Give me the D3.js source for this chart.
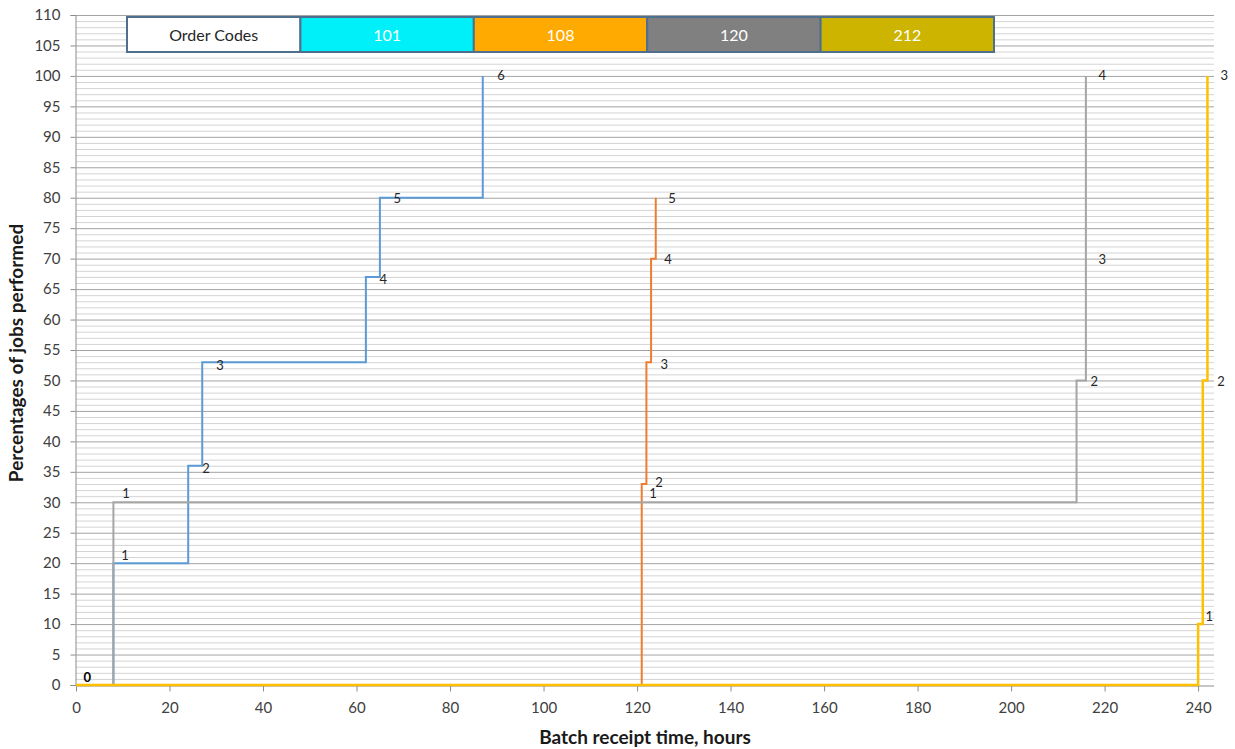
<!DOCTYPE html>
<html><head><meta charset="utf-8">
<script src="https://cdn.jsdelivr.net/npm/d3@7"></script>
<style>body{margin:0;background:#fff}svg{display:block}text{font-family:Lato,"Liberation Sans",sans-serif}</style>
</head><body>
<svg id="c" width="1235" height="749"></svg>
<script>
// ---- data ----
const xTickValues = [0,20,40,60,80,100,120,140,160,180,200,220,240];
const yTickValues = [0,5,10,15,20,25,30,35,40,45,50,55,60,65,70,75,80,85,90,95,100,105,110];
const legendCodes = ["101","108","120","212"];
const legendTitle = "Order Codes";

const times101 = [0,8,24,27,62,65,87];
const values101 = [0,20,36,53,67,80,100];
const times108 = [0,121,122,123,124];
const values108 = [0,33,53,70,80];
const times120 = [0,8,214,216];
const values120 = [0,30,50,100];
const times212 = [0,240,241,242];
const values212 = [0,10,50,100];

// data label anchors (time, percentage, text)
const labels101 = [[10.5,21.3,"1"],[27.8,35.6,"2"],[30.8,52.5,"3"],[65.7,66.6,"4"],[68.7,79.8,"5"],[90.9,100,"6"]];
const labels108 = [[123.4,31.5,"1"],[124.7,33.2,"2"],[125.8,52.7,"3"],[126.6,69.8,"4"],[127.5,79.8,"5"]];
const labels120 = [[10.7,31.5,"1"],[217.8,49.8,"2"],[219.5,69.8,"3"],[219.5,100,"4"]];
const labels212 = [[242.4,11.2,"1"],[244.9,49.8,"2"],[245.6,100,"3"]];
const labelZero = [[2.4,1.3,"0"]];

// ---- layout ----
const svg = d3.select("#c");
const x = d3.scaleLinear().domain([0,243.4]).range([76,1214]);
const y = d3.scaleLinear().domain([0,110]).range([685,15]);

// gridlines: minor every 1, major every 5
const g = svg.append("g");
g.selectAll("line.minor").data(d3.range(0,111).filter(v=>v%5!==0)).join("line")
  .attr("x1",x(0)).attr("x2",x.range()[1]).attr("y1",d=>y(d)+0.5).attr("y2",d=>y(d)+0.5)
  .attr("stroke","#d4d4d4").attr("stroke-width",1);
g.selectAll("line.major").data(yTickValues.filter(v=>v>0)).join("line")
  .attr("x1",x(0)).attr("x2",x.range()[1]).attr("y1",d=>y(d)+0.5).attr("y2",d=>y(d)+0.5)
  .attr("stroke","#a3a3a3").attr("stroke-width",1);

// axes
const yAxis = svg.append("g").attr("transform",`translate(${x(0)-0.5},0)`)
  .call(d3.axisLeft(y).tickValues(yTickValues).tickSize(5).tickPadding(10));
const xAxis = svg.append("g").attr("transform",`translate(0,${y(0)+0.5})`)
  .call(d3.axisBottom(x).tickValues(xTickValues).tickSize(6).tickPadding(11));
[yAxis,xAxis].forEach(a=>{
  a.select(".domain").attr("stroke","#8c8c8c");
  a.selectAll(".tick line").attr("stroke","#8c8c8c");
  a.selectAll(".tick text").attr("fill","#404040").style("font-size","15px").style("font-family","Lato, sans-serif");
});
xAxis.select(".domain").attr("d",`M${x(0)},0.5H${x.range()[1]}`);

// step lines
const line = d3.line().x(d=>x(d[0])).y(d=>y(d[1])).curve(d3.curveStepAfter);
const series = [
  {t:times101,v:values101,color:"#5b9bd5",w:2,labels:labels101},
  {t:times108,v:values108,color:"#ed7d31",w:2,labels:labels108},
  {t:times120,v:values120,color:"#a5a5a5",w:2,labels:labels120},
  {t:times212,v:values212,color:"#ffc000",w:2.5,labels:labels212}
];
series.forEach(s=>{
  svg.append("path").datum(d3.zip(s.t,s.v)).attr("d",line)
    .attr("fill","none").attr("stroke",s.color).attr("stroke-width",s.w);
});
series.forEach(s=>{
  svg.selectAll(null).data(s.labels).join("text")
    .attr("x",d=>x(d[0])).attr("y",d=>y(d[1])).attr("dy","0.35em")
    .attr("text-anchor","middle").style("font-size","13px").attr("fill","#262626")
    .text(d=>d[2]);
});
svg.selectAll(null).data(labelZero).join("text")
  .attr("x",d=>x(d[0])).attr("y",d=>y(d[1])).attr("dy","0.35em")
  .attr("text-anchor","middle").style("font-size","13px").style("font-weight","bold").attr("fill","#000")
  .text(d=>d[2]);

// legend table
const legendColors = ["#ffffff","#00f0fa","#ffaa00","#808080","#ccb400"];
const cells = [legendTitle].concat(legendCodes);
const lx = d3.scaleBand().domain(d3.range(cells.length)).range([127,994]);
const lg = svg.append("g");
lg.selectAll("rect").data(cells).join("rect")
  .attr("x",(d,i)=>lx(i)).attr("y",17).attr("width",lx.bandwidth()).attr("height",35)
  .attr("fill",(d,i)=>legendColors[i]).attr("stroke","#4f6f8f").attr("stroke-width",2);
lg.selectAll("text").data(cells).join("text")
  .attr("x",(d,i)=>lx(i)+lx.bandwidth()/2).attr("y",35).attr("dy","0.35em")
  .attr("text-anchor","middle").style("font-size","16px")
  .attr("fill",(d,i)=>i===0?"#262626":"#ffffff").text(d=>d);

// axis titles
svg.append("text").attr("x",645).attr("y",737).attr("dy","0.35em").attr("text-anchor","middle")
  .style("font-size","19px").style("font-weight","bold").attr("fill","#1a1a1a").text("Batch receipt time, hours");
svg.append("text").attr("transform","translate(16,353) rotate(-90)").attr("dy","0.35em").attr("text-anchor","middle")
  .style("font-size","19px").style("font-weight","bold").attr("fill","#1a1a1a").text("Percentages of jobs performed");
</script>
</body></html>
